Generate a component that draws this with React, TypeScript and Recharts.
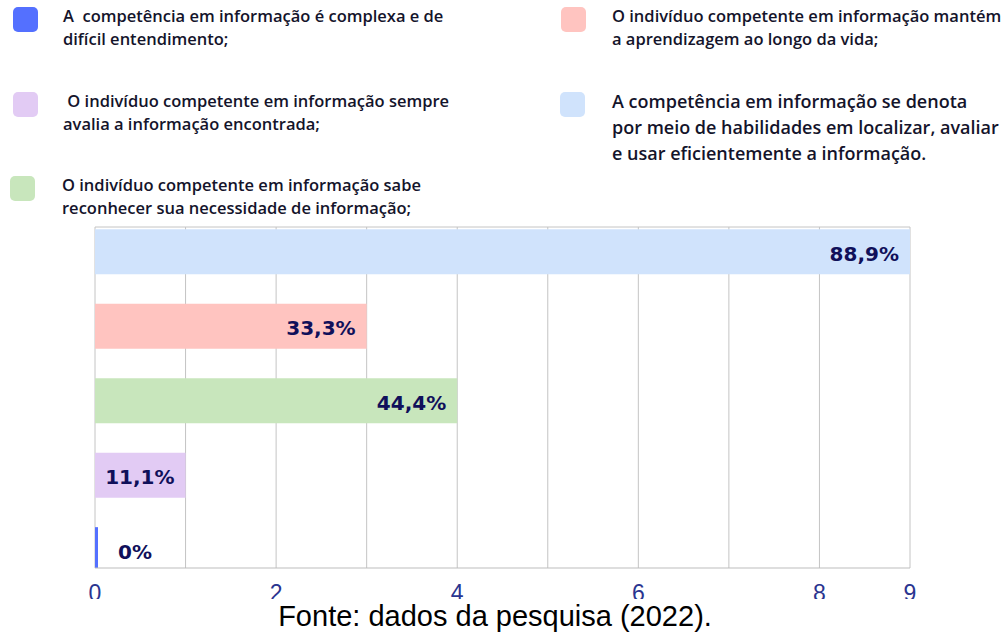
import { BarChart, Bar, XAxis, YAxis, CartesianGrid, Cell, LabelList, ReferenceLine } from 'recharts';

// categories, top to bottom as drawn
const categories = [
  'A competência em informação se denota por meio de habilidades em localizar, avaliar e usar eficientemente a informação.',
  'O indivíduo competente em informação mantém a aprendizagem ao longo da vida;',
  'O indivíduo competente em informação sabe reconhecer sua necessidade de informação;',
  'O indivíduo competente em informação sempre avalia a informação encontrada;',
  'A competência em informação é complexa e de difícil entendimento;',
];
const counts = [9, 3, 4, 1, 0];
const percentLabels = ['88,9%', '33,3%', '44,4%', '11,1%', '0%'];
const barColors = ['#D0E3FC', '#FFC4C0', '#C8E6BC', '#E2CBF4', '#5470FF'];
const xTicks = [0, 1, 2, 3, 4, 5, 6, 7, 8, 9];
const xTickLabels = [0, 2, 4, 6, 8, 9];

// legend: text lines per entry + swatch colour
const legendLines = [
  ['A  competência em informação é complexa e de', 'difícil entendimento;'],
  [' O indivíduo competente em informação sempre', 'avalia a informação encontrada;'],
  ['O indivíduo competente em informação sabe', 'reconhecer sua necessidade de informação;'],
  ['O indivíduo competente em informação mantém', 'a aprendizagem ao longo da vida;'],
  ['A competência em informação se denota', 'por meio de habilidades em localizar, avaliar', 'e usar eficientemente a informação.'],
];
const legendColors = ['#5470FF', '#E2CBF4', '#C8E6BC', '#FFC4C0', '#D0E3FC'];

const caption = 'Fonte: dados da pesquisa (2022).';

const data = categories.map((name, i) => ({
  pos: i,
  name,
  count: counts[i],
  label: percentLabels[i],
}));

// layout only
const legendBox = [
  { sq: [13, 7], text: [63, 4], size: 16.5, lh: 23 },
  { sq: [13, 92], text: [63, 89], size: 16.5, lh: 23 },
  { sq: [10, 176], text: [62, 173], size: 16.5, lh: 23 },
  { sq: [561, 7], text: [612, 4], size: 16.5, lh: 23 },
  { sq: [560, 92], text: [612, 88], size: 18, lh: 26 },
];

const ValueLabel = (props: any) => {
  const { x, y, width, height, value } = props;
  const empty = value === '0%';
  return (
    <text
      x={empty ? x + 23 : x + width - 11}
      y={y + height / 2 + 2}
      textAnchor={empty ? 'start' : 'end'}
      dominantBaseline="central"
      fill="#10105A"
      fontSize={20}
      fontWeight="bold"
      fontFamily="DejaVu Sans, sans-serif"
    >
      {value}
    </text>
  );
};

export default function App() {
  return (
    <div style={{ position: 'absolute', left: 0, top: 0, width: 1008, height: 633, background: '#fff' }}>
      {legendLines.map((lines, i) => {
        const b = legendBox[i];
        return (
          <div key={i}>
            <div
              style={{
                position: 'absolute',
                left: b.sq[0],
                top: b.sq[1],
                width: 25,
                height: 25,
                borderRadius: 5,
                background: legendColors[i],
              }}
            />
            <div
              style={{
                position: 'absolute',
                left: b.text[0],
                top: b.text[1],
                fontFamily: 'Open Sans, sans-serif',
                fontWeight: 600,
                fontSize: b.size,
                lineHeight: `${b.lh}px`,
                color: '#14142B',
                whiteSpace: 'pre',
              }}
            >
              {lines.map((l, j) => (
                <div key={j}>{l}</div>
              ))}
            </div>
          </div>
        );
      })}
      <div style={{ position: 'absolute', left: 0, top: 0 }}>
        <BarChart
          width={1008}
          height={633}
          data={data}
          layout="vertical"
          margin={{ top: 227, right: 98, bottom: 35, left: 95 }}
        >
          <CartesianGrid horizontal={false} stroke="#C4C4C4" />
          <XAxis
            type="number"
            domain={[0, 9]}
            ticks={xTicks}
            interval={0}
            height={30}
            tickLine={false}
            axisLine={{ stroke: '#BDBDBD' }}
            tickMargin={11}
            tick={{ fill: '#2A3590', fontSize: 23, fontFamily: 'Liberation Sans, Arial, sans-serif' }}
            tickFormatter={(v: number) => (xTickLabels.includes(v) ? String(v) : '')}
          />
          <YAxis
            type="number"
            dataKey="pos"
            domain={[-0.33, 4.25]}
            ticks={[0, 1, 2, 3, 4]}
            allowDataOverflow
            hide
          />
          <ReferenceLine y={-0.33} stroke="#C4C4C4" />
          <Bar dataKey="count" barSize={45} minPointSize={3} isAnimationActive={false}>
            {data.map((d, i) => (
              <Cell key={d.name} fill={barColors[i]} />
            ))}
            <LabelList dataKey="label" content={ValueLabel} />
          </Bar>
        </BarChart>
      </div>
      <div
        style={{
          position: 'absolute',
          left: 0,
          top: 599,
          width: 990,
          height: 34,
          background: '#fff',
          textAlign: 'center',
          fontFamily: 'Liberation Sans, Arial, sans-serif',
          fontSize: 29,
          lineHeight: '34px',
          color: '#000',
        }}
      >
        {caption}
      </div>
    </div>
  );
}
